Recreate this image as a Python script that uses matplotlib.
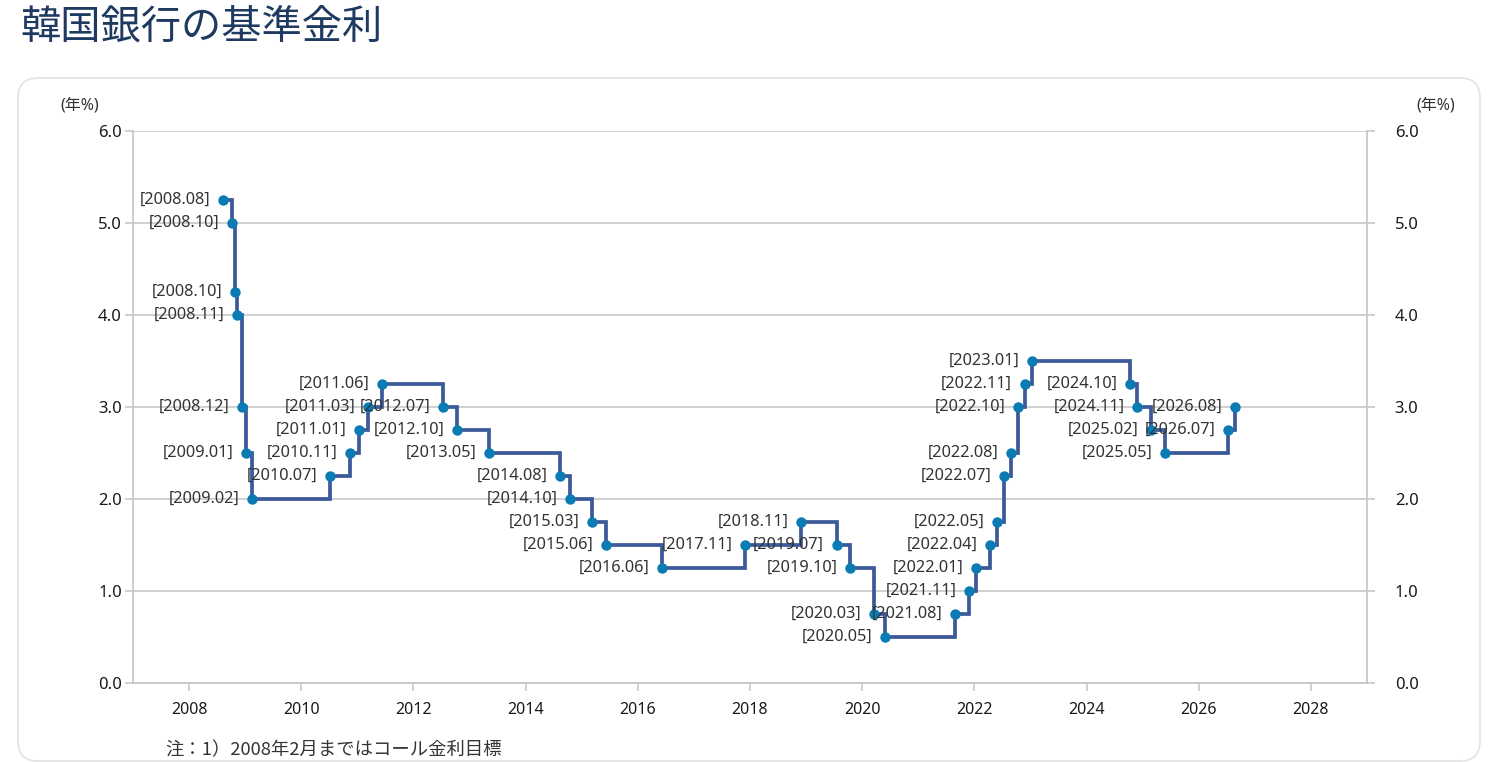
import datetime as dt
import matplotlib
matplotlib.use("Agg")
import matplotlib.pyplot as plt
from matplotlib.patches import FancyBboxPatch
from matplotlib.transforms import IdentityTransform
from matplotlib.ticker import FormatStrFormatter

plt.rcParams['font.family'] = ['Noto Sans', 'Noto Sans CJK JP', 'DejaVu Sans']

# ---- data ----
title = "韓国銀行の基準金利"
footnote = "注：1）2008年2月まではコール金利目標"
unit_label = "(年%)"

dates = ["2008-08-07", "2008-10-09", "2008-10-27", "2008-11-07", "2008-12-11",
         "2009-01-09", "2009-02-12", "2010-07-09", "2010-11-16", "2011-01-13",
         "2011-03-10", "2011-06-10", "2012-07-12", "2012-10-11", "2013-05-09",
         "2014-08-14", "2014-10-15", "2015-03-12", "2015-06-11", "2016-06-09",
         "2017-11-30", "2018-11-30", "2019-07-18", "2019-10-16", "2020-03-17",
         "2020-05-28", "2021-08-26", "2021-11-25", "2022-01-14", "2022-04-14",
         "2022-05-26", "2022-07-13", "2022-08-25", "2022-10-12", "2022-11-24",
         "2023-01-13", "2024-10-11", "2024-11-28", "2025-02-25", "2025-05-29",
         "2026-07-12", "2026-08-26"]
rates = [5.25, 5.00, 4.25, 4.00, 3.00,
         2.50, 2.00, 2.25, 2.50, 2.75,
         3.00, 3.25, 3.00, 2.75, 2.50,
         2.25, 2.00, 1.75, 1.50, 1.25,
         1.50, 1.75, 1.50, 1.25, 0.75,
         0.50, 0.75, 1.00, 1.25, 1.50,
         1.75, 2.25, 2.50, 3.00, 3.25,
         3.50, 3.25, 3.00, 2.75, 2.50,
         2.75, 3.00]
x_ticks = [2008, 2010, 2012, 2014, 2016, 2018, 2020, 2022, 2024, 2026, 2028]
y_ticks = [0, 1, 2, 3, 4, 5, 6]


def to_year(s):
    d = dt.date.fromisoformat(s)
    start = dt.date(d.year, 1, 1)
    n = (dt.date(d.year + 1, 1, 1) - start).days
    return d.year + (d - start).days / n


xs = [to_year(s) for s in dates]
labels = ["[" + s[:4] + "." + s[5:7] + "]" for s in dates]

# ---- figure ----
W, H = 1500, 762
fig = plt.figure(figsize=(W / 100, H / 100), dpi=100)
fig.patch.set_facecolor("white")

box = FancyBboxPatch((18, 1), 1462, 683, boxstyle="round,pad=0,rounding_size=20",
                     transform=IdentityTransform(), facecolor="none",
                     edgecolor="#e2e2e2", linewidth=1.2, zorder=-10)
fig.patches.append(box)

ax = fig.add_axes([133 / W, 1 - 683 / H, (1367 - 133) / W, (683 - 131) / H])
ax.set_facecolor("none")
ax.set_xlim(2007, 2029)
ax.set_ylim(0, 6)

grid_c = "#c4c4c4"
ax.spines["top"].set_visible(False)
for sp in ["left", "right", "bottom"]:
    ax.spines[sp].set_color(grid_c)
    ax.spines[sp].set_linewidth(1.2)
ax.set_yticks(y_ticks)
ax.yaxis.set_major_formatter(FormatStrFormatter("%.1f"))
ax.grid(axis="y", color=grid_c, linewidth=1.1)
ax.set_axisbelow(True)
ax.tick_params(axis="y", length=6, color=grid_c, width=1.1, pad=2,
               labelsize=12, labelcolor="#1a1a1a")
ax.set_xticks(x_ticks)
ax.set_xticklabels([str(t) for t in x_ticks])
ax.tick_params(axis="x", length=6, color=grid_c, width=1.1, pad=8,
               labelsize=11.5, labelcolor="#1a1a1a")

ax2 = ax.twinx()
ax2.set_ylim(0, 6)
ax2.set_yticks(y_ticks)
ax2.yaxis.set_major_formatter(FormatStrFormatter("%.1f"))
ax2.tick_params(axis="y", length=6, color=grid_c, width=1.1, pad=14,
                labelsize=12, labelcolor="#1a1a1a")
for sp in ax2.spines.values():
    sp.set_visible(False)

ax.plot(xs, rates, drawstyle="steps-post", color="#3c5a9a", linewidth=2.7,
        zorder=3, solid_joinstyle="miter")
ax.plot(xs, rates, linestyle="none", marker="o", markersize=7.5,
        color="#0b7bb4", markeredgewidth=0, zorder=4)

for x, y, lab in zip(xs, rates, labels):
    ax.annotate(lab, (x, y), xytext=(-9, 0), textcoords="offset points",
                ha="right", va="center", fontsize=11.8, color="#333333", zorder=5)

fig.text(20 / W, 1 - 27 / H, title, fontsize=29, color="#1f3a60",
         ha="left", va="center", family=["Noto Sans CJK JP"])
fig.text(80 / W, 1 - 105 / H, unit_label, fontsize=11.5, color="#333333",
         ha="center", va="center")
fig.text(1436 / W, 1 - 105 / H, unit_label, fontsize=11.5, color="#333333",
         ha="center", va="center")
fig.text(165 / W, 1 - 750 / H, footnote, fontsize=13.2, color="#333333",
         ha="left", va="center", family=["Noto Sans CJK JP", "DejaVu Sans"])

fig.savefig("out.png", dpi=100)
